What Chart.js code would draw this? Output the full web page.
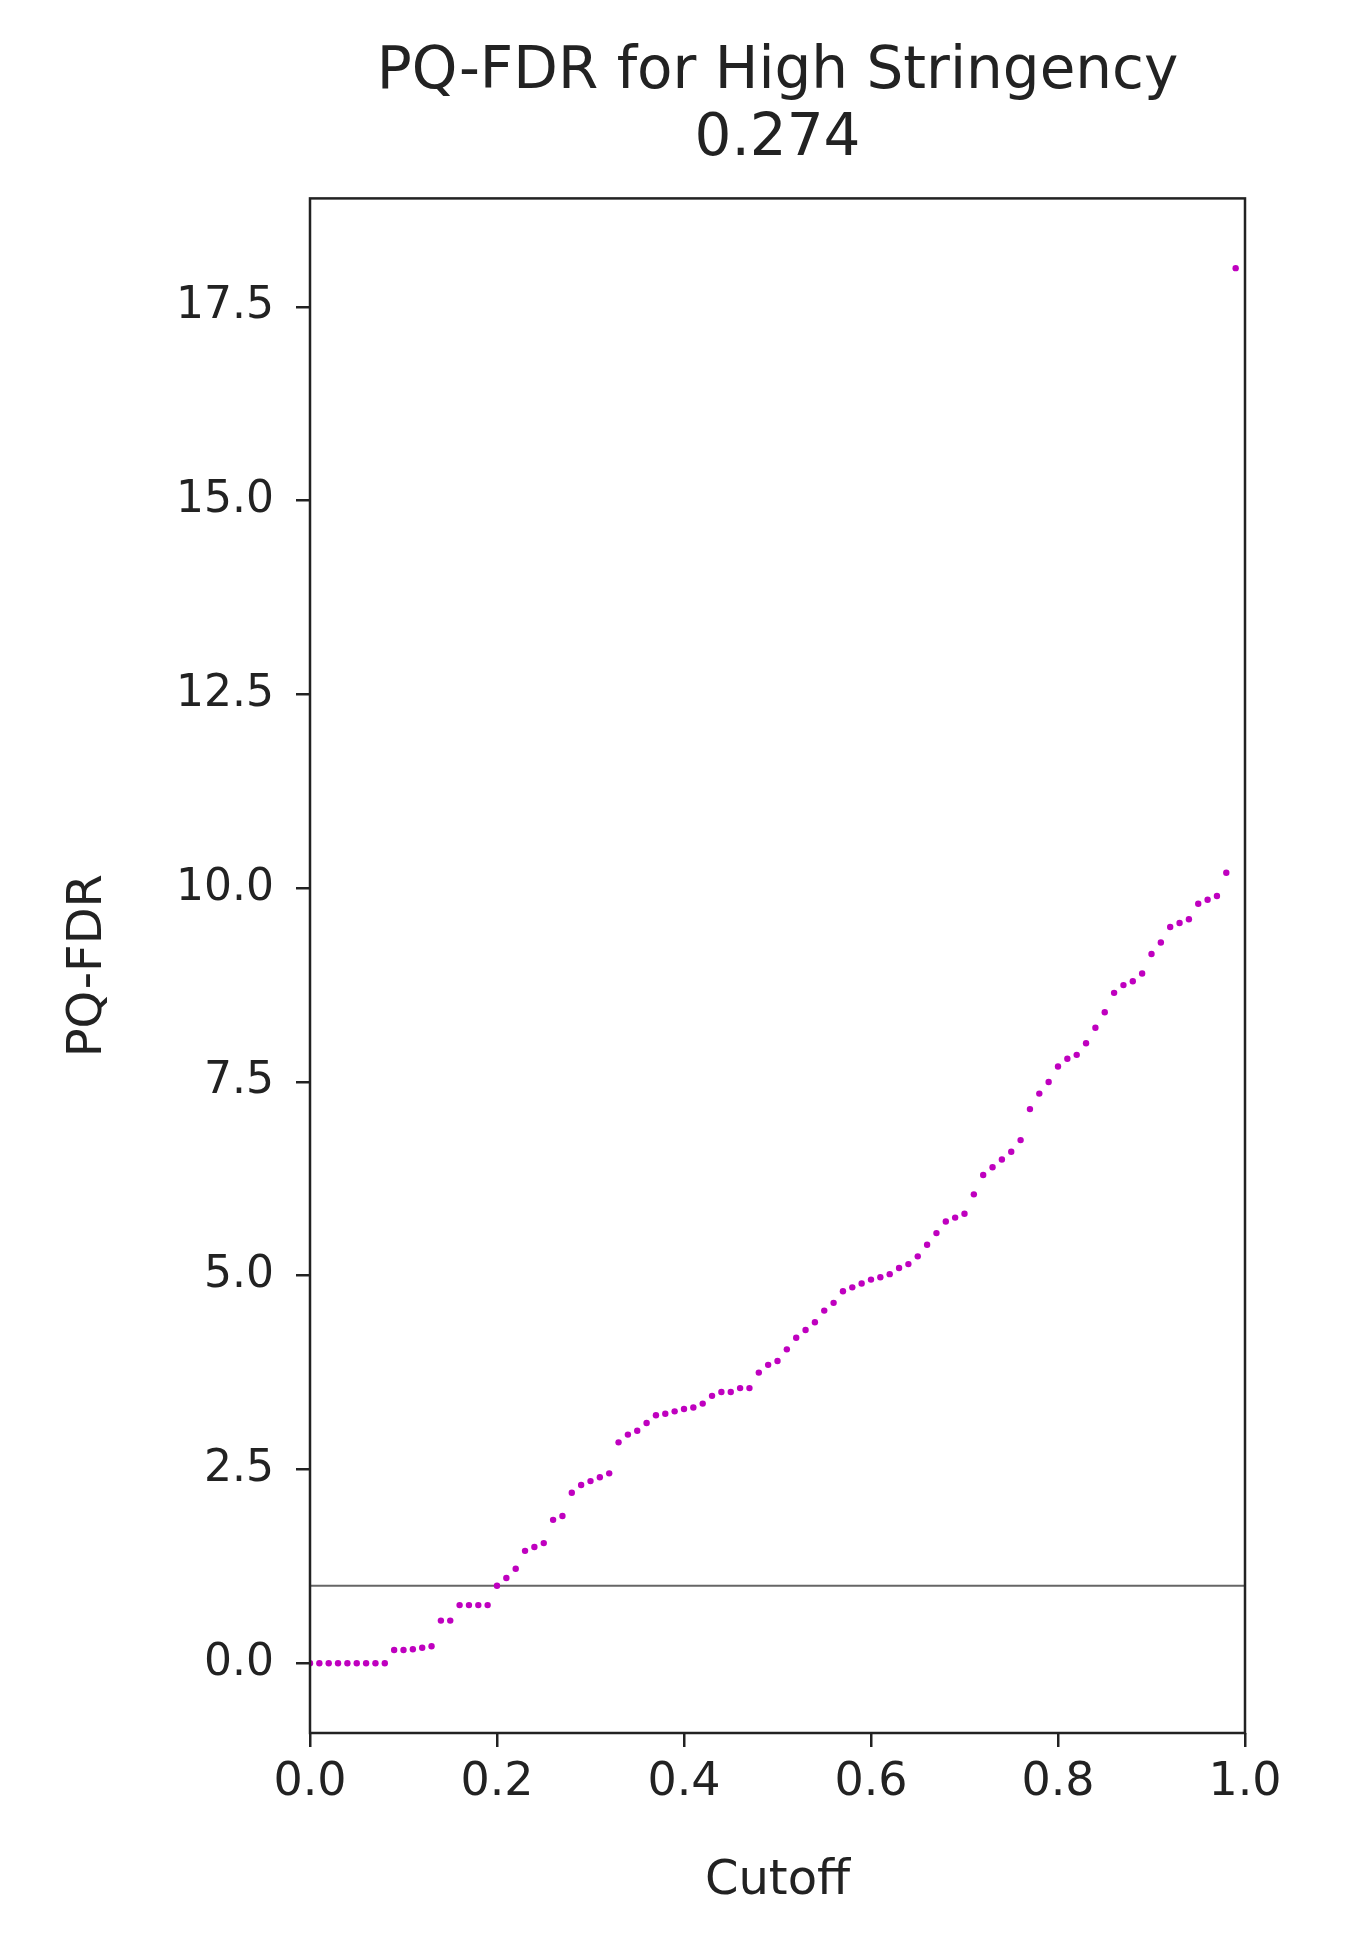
<!DOCTYPE html>
<html>
<head>
<meta charset="utf-8">
<script src="https://cdn.jsdelivr.net/npm/chart.js@4"></script>
<style>
  html, body { margin: 0; padding: 0; background: #fff; }
  #wrap { width: 1363px; height: 1954px; }
</style>
</head>
<body>
<div id="wrap"><canvas id="chart"></canvas></div>
<script>
const cutoffs = [
  0.00, 0.01, 0.02, 0.03, 0.04, 0.05, 0.06, 0.07, 0.08, 0.09,
  0.10, 0.11, 0.12, 0.13, 0.14, 0.15, 0.16, 0.17, 0.18, 0.19,
  0.20, 0.21, 0.22, 0.23, 0.24, 0.25, 0.26, 0.27, 0.28, 0.29,
  0.30, 0.31, 0.32, 0.33, 0.34, 0.35, 0.36, 0.37, 0.38, 0.39,
  0.40, 0.41, 0.42, 0.43, 0.44, 0.45, 0.46, 0.47, 0.48, 0.49,
  0.50, 0.51, 0.52, 0.53, 0.54, 0.55, 0.56, 0.57, 0.58, 0.59,
  0.60, 0.61, 0.62, 0.63, 0.64, 0.65, 0.66, 0.67, 0.68, 0.69,
  0.70, 0.71, 0.72, 0.73, 0.74, 0.75, 0.76, 0.77, 0.78, 0.79,
  0.80, 0.81, 0.82, 0.83, 0.84, 0.85, 0.86, 0.87, 0.88, 0.89,
  0.90, 0.91, 0.92, 0.93, 0.94, 0.95, 0.96, 0.97, 0.98, 0.99,
];
const pqFdr = [
  0, 0, 0, 0, 0, 0, 0, 0, 0, 0.17,
  0.17, 0.18, 0.2, 0.22, 0.55, 0.55, 0.75, 0.75, 0.75, 0.75,
  1.0, 1.1, 1.22, 1.45, 1.5, 1.55, 1.85, 1.9, 2.2, 2.3,
  2.35, 2.4, 2.45, 2.85, 2.95, 3.0, 3.1, 3.2, 3.22, 3.25,
  3.28, 3.3, 3.35, 3.45, 3.5, 3.5, 3.55, 3.55, 3.75, 3.85,
  3.9, 4.05, 4.2, 4.3, 4.4, 4.55, 4.65, 4.8, 4.85, 4.9,
  4.95, 4.98, 5.02, 5.1, 5.15, 5.25, 5.4, 5.55, 5.7, 5.75,
  5.8, 6.05, 6.3, 6.4, 6.5, 6.6, 6.75, 7.15, 7.35, 7.5,
  7.7, 7.8, 7.85, 8.0, 8.2, 8.4, 8.65, 8.75, 8.8, 8.9,
  9.15, 9.3, 9.5, 9.55, 9.6, 9.8, 9.85, 9.9, 10.2, 18.0,
];
const thresholdX = [0, 1];
const thresholdY = [1, 1];
const xTicks = [0, 0.2, 0.4, 0.6, 0.8, 1.0];
const yTicks = [0, 2.5, 5, 7.5, 10, 12.5, 15, 17.5];

const FONT = "'DejaVu Sans', sans-serif";

// рамка вокруг области графика
const frameBorder = {
  id: 'frameBorder',
  afterDatasetsDraw(chart) {
    const { ctx, chartArea: { left, top, right, bottom } } = chart;
    ctx.save();
    ctx.strokeStyle = '#222';
    ctx.lineWidth = 2.5;
    ctx.strokeRect(left, top, right - left, bottom - top);
    ctx.restore();
  },
};

new Chart(document.getElementById('chart'), {
  type: 'scatter',
  plugins: [frameBorder],
  data: {
    datasets: [
      {
        data: cutoffs.map((x, i) => ({ x, y: pqFdr[i] })),
        backgroundColor: '#bf00bf',
        borderWidth: 0,
        pointRadius: 3.2,
        order: 1,
      },
      {
        data: thresholdX.map((x, i) => ({ x, y: thresholdY[i] })),
        showLine: true,
        borderColor: '#666',
        borderWidth: 2,
        pointRadius: 0,
        order: 2,
      },
    ],
  },
  options: {
    responsive: true,
    maintainAspectRatio: false,
    animation: false,
    layout: { padding: { right: 118, left: 0, bottom: 40 } },
    plugins: {
      legend: { display: false },
      tooltip: { enabled: false },
      title: {
        display: true,
        fullSize: false,
        text: ['PQ-FDR for High Stringency', '0.274'],
        color: '#222',
        font: { family: FONT, size: 58, weight: 'normal', lineHeight: 1.15 },
        padding: { top: 40, bottom: 25 },
      },
    },
    scales: {
      x: {
        type: 'linear',
        min: 0,
        max: 1,
        afterBuildTicks: (s) => { s.ticks = xTicks.map((v) => ({ value: v })); },
        afterFit: (s) => { s.height = 181; },
        ticks: {
          color: '#222',
          padding: 8,
          maxRotation: 0,
          font: { family: FONT, size: 46 },
          callback: (v) => Number(v).toFixed(1),
        },
        grid: { drawOnChartArea: false, tickLength: 14, color: '#222', lineWidth: 2.5 },
        border: { display: false },
        title: {
          display: true,
          text: 'Cutoff',
          color: '#222',
          font: { family: FONT, size: 48 },
          padding: { top: 0 },
        },
      },
      y: {
        type: 'linear',
        min: -0.9,
        max: 18.9,
        afterBuildTicks: (s) => { s.ticks = yTicks.map((v) => ({ value: v })); },
        afterFit: (s) => { s.width = 310; },
        ticks: {
          color: '#222',
          padding: 22,
          font: { family: FONT, size: 44 },
          callback: (v) => Number(v).toFixed(1),
        },
        grid: { drawOnChartArea: false, tickLength: 14, color: '#222', lineWidth: 2.5 },
        border: { display: false },
        title: {
          display: true,
          text: 'PQ-FDR',
          color: '#222',
          font: { family: FONT, size: 48 },
          padding: { top: 60 },
        },
      },
    },
  },
});
</script>
</body>
</html>
